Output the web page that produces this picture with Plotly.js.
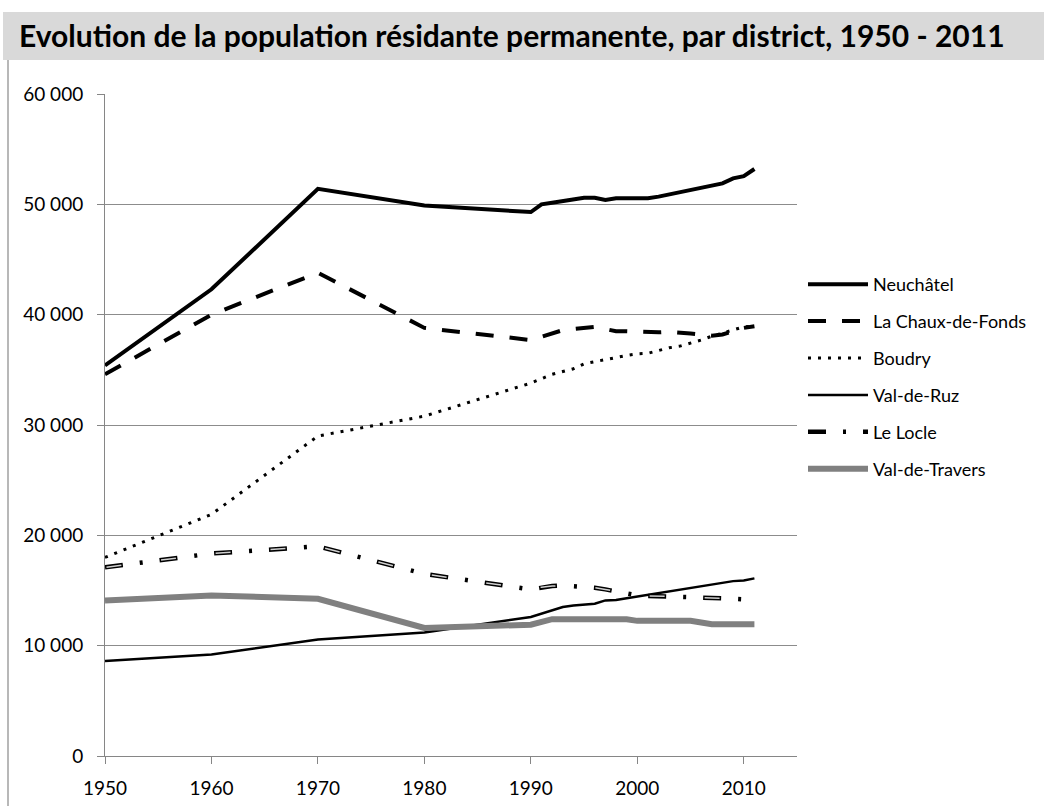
<!DOCTYPE html>
<html>
<head>
<meta charset="utf-8">
<script src="https://cdn.plot.ly/plotly-3.0.1.min.js"></script>
<style>html,body{margin:0;padding:0;background:#fff;}#chart{width:1044px;height:806px;}</style>
</head>
<body>
<div id="chart"></div>
<script>
const years = [1950, 1960, 1970, 1980, 1990, 1991, 1992, 1993, 1994, 1995, 1996, 1997, 1998, 1999, 2000, 2001, 2002, 2003, 2004, 2005, 2006, 2007, 2008, 2009, 2010, 2011];
const neuchatel = [35400, 42300, 51400, 49900, 49300, 50000, 50150, 50300, 50450, 50600, 50600, 50400, 50550, 50550, 50550, 50550, 50700, 50900, 51150, 51300, 51500, 51750, 51900, 52350, 52550, 53200];
const chauxDeFonds = [34600, 40000, 43800, 38800, 37700, 38000, 38300, 38600, 38700, 38800, 38900, 38700, 38500, 38500, 38450, 38400, 38400, 38450, 38400, 38300, 38200, 38100, 38200, 38500, 38800, 38950];
const boudry = [18000, 21900, 29000, 30800, 33800, 34200, 34600, 34850, 35100, 35550, 35750, 35950, 36150, 36300, 36450, 36500, 36750, 37000, 37150, 37400, 37700, 38050, 38350, 38650, 38900, 38950];
const valDeRuz = [8600, 9200, 10550, 11200, 12600, 12900, 13200, 13500, 13650, 13750, 13800, 14100, 14150, 14300, 14450, 14600, 14750, 14900, 15050, 15200, 15350, 15550, 15700, 15850, 15900, 16100];
const leLocle = [17100, 18350, 19000, 16500, 15100, 15300, 15400, 15450, 15400, 15350, 15250, 15100, 14900, 14700, 14550, 14500, 14500, 14500, 14450, 14400, 14350, 14350, 14300, 14250, 14200, 14200];
const valDeTravers = [14100, 14550, 14250, 11600, 11900, 12200, 12400, 12400, 12400, 12400, 12400, 12400, 12400, 12400, 12250, 12250, 12250, 12250, 12250, 12250, 12100, 11950, 11950, 11950, 11950, 11950];
const seriesNames = ['Neuchâtel', 'La Chaux-de-Fonds', 'Boudry', 'Val-de-Ruz', 'Le Locle', 'Val-de-Travers'];
const yTicks = [0, 10000, 20000, 30000, 40000, 50000, 60000];
const xTicks = [1950, 1960, 1970, 1980, 1990, 2000, 2010];
const chartTitle = 'Evolution de la population résidante permanente, par district, 1950 - 2011';

const FONT = 'Lato, "Open Sans", sans-serif';
const W = 1044, H = 806, L = 105, R = 797, T = 94, B = 756;
const px2x = p => (p - L) / (R - L);
const px2y = p => (B - p) / (B - T);

function tr(name, y, line, extra) {
  return Object.assign({type: 'scatter', mode: 'lines', x: years, y: y, name: name, legendgroup: name, line: line, hoverinfo: 'skip'}, extra || {});
}

const traces = [
  tr(seriesNames[0], neuchatel, {color: '#000', width: 4}),
  tr(seriesNames[1], chauxDeFonds, {color: '#000', width: 4, dash: '18px,16px'}),
  tr(seriesNames[2], boudry, {color: '#000', width: 3, dash: '3px,7px'}),
  tr(seriesNames[3], valDeRuz, {color: '#000', width: 2.5}),
  tr(seriesNames[4], leLocle, {color: '#000', width: 4.5, dash: '18px,17px,3px,17px'}),
  tr(seriesNames[4], leLocle, {color: '#d0d0d0', width: 1.5, dash: '0px,1.5px,15px,38.5px'}, {showlegend: false}),
  tr(seriesNames[5], valDeTravers, {color: '#808080', width: 6})
];

const layout = {
  width: W, height: H,
  margin: {l: L, r: W - R, t: T, b: H - B, pad: 0},
  paper_bgcolor: '#fff', plot_bgcolor: '#fff',
  separators: '. ',
  font: {family: FONT, color: '#000', size: 19},
  title: {
    text: chartTitle,
    font: {family: FONT, size: 30, color: '#000', weight: 'bold'},
    x: 19 / W, xanchor: 'left', xref: 'container',
    y: 1 - 36 / H, yanchor: 'middle', yref: 'container'
  },
  xaxis: {
    range: [1950, 2015], tickvals: xTicks, ticks: 'outside', ticklen: 7, tickcolor: '#868686',
    showline: true, linecolor: '#868686', linewidth: 1, showgrid: false, zeroline: false,
    tickfont: {family: FONT, size: 19, color: '#000'}, ticklabelstandoff: 8, fixedrange: true
  },
  yaxis: {
    range: [0, 60000], tickvals: yTicks, tickformat: ',d', ticks: 'outside', ticklen: 7, tickcolor: '#868686',
    showline: true, linecolor: '#868686', linewidth: 1, showgrid: true, gridcolor: '#8c8c8c', gridwidth: 1,
    zeroline: false, tickfont: {family: FONT, size: 19, color: '#000'}, ticklabelstandoff: 10, fixedrange: true
  },
  legend: {
    x: px2x(803), xanchor: 'left', y: px2y(266), yanchor: 'top',
    font: {family: FONT, size: 18, color: '#000'},
    bgcolor: 'rgba(0,0,0,0)', borderwidth: 0,
    traceorder: 'grouped', tracegroupgap: 10.5, itemwidth: 60
  },
  shapes: [
    {type: 'rect', xref: 'paper', yref: 'paper', x0: px2x(3), x1: px2x(W + 5), y0: px2y(60), y1: px2y(12), fillcolor: '#d9d9d9', line: {width: 0}, layer: 'below'},
    {type: 'line', xref: 'paper', yref: 'paper', x0: px2x(8), x1: px2x(8), y0: px2y(60), y1: px2y(H + 5), line: {color: '#a0a0a0', width: 1.5}}
  ],
  showlegend: true
};

Plotly.newPlot('chart', traces, layout, {displayModeBar: false, staticPlot: true});
</script>
</body>
</html>
